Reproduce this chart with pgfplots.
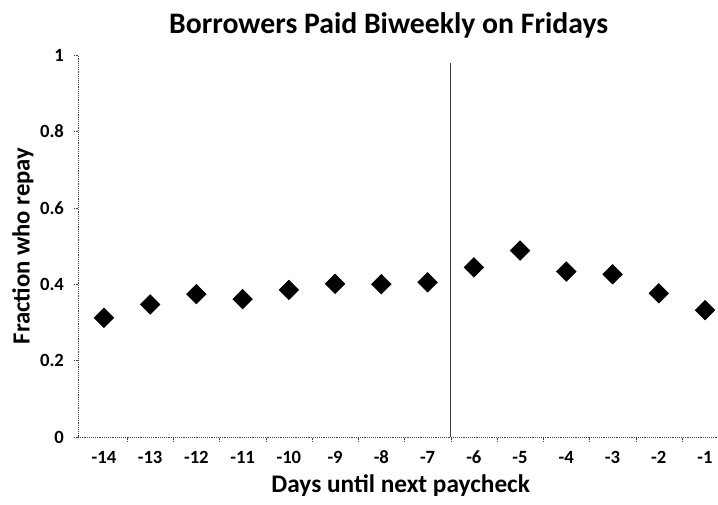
\documentclass[border=0pt]{standalone}
\usepackage{pgfplots}
\pgfplotsset{compat=1.18}
\usepackage{fontspec}
\setmainfont{Carlito}
\usetikzlibrary{calc}
\begin{document}
\begin{tikzpicture}
\begin{axis}[
  scale only axis,
  width=480pt, height=286.5pt,
  xmin=-14.56, xmax=-0.72,
  ymin=0, ymax=1,
  axis lines*=left,
  axis line style={black!75, densely dotted},
  xtick={-14,-13,-12,-11,-10,-9,-8,-7,-6,-5,-4,-3,-2,-1},
  xticklabels={-14,-13,-12,-11,-10,-9,-8,-7,-6,-5,-4,-3,-2,-1},
  ytick={0,0.2,0.4,0.6,0.8,1},
  yticklabels={0,0.2,0.4,0.6,0.8,1},
  tick align=outside,
  major tick length=3pt,
  tick style={black!75, densely dotted},
  xtick style={draw=none},
  extra x ticks={-13.5,-12.5,-11.5,-10.5,-9.5,-8.5,-7.5,-6.5,-5.5,-4.5,-3.5,-2.5,-1.5},
  extra x tick labels={},
  extra x tick style={every x tick/.style={draw=black!75, densely dotted}},
  ticklabel style={font=\fontsize{14}{16}\selectfont\bfseries},
  xticklabel style={yshift=-4pt},
  yticklabel style={xshift=-4pt},
  xlabel={Days until next paycheck},
  ylabel={Fraction who repay},
  xlabel style={font=\fontsize{19}{20}\selectfont\bfseries, yshift=5pt, xshift=2pt},
  ylabel style={font=\fontsize{18.5}{20}\selectfont\bfseries, yshift=-2pt},
  title={Borrowers Paid Biweekly on Fridays},
  title style={font=\fontsize{22.3}{24}\selectfont\bfseries, yshift=3pt, xshift=-7pt},
  clip=false,
]
\addplot[black!75, line width=0.9pt, forget plot] coordinates {(-6.5,0) (-6.5,0.98)};
\addplot[only marks, mark=square*, mark size=5.2pt, mark options={rotate=45, fill=black, draw=black}]
coordinates {
(-14,0.312) (-13,0.347) (-12,0.374) (-11,0.361) (-10,0.385) (-9,0.401) (-8,0.400)
(-7,0.405) (-6,0.444) (-5,0.488) (-4,0.433) (-3,0.426) (-2,0.376) (-1,0.332)
};
\end{axis}
\pgfresetboundingbox
\path ($(current axis.south west)+(-58.5pt,-50.25pt)$) rectangle ($(current axis.north east)+(0pt,41.25pt)$);
\end{tikzpicture}
\end{document}
